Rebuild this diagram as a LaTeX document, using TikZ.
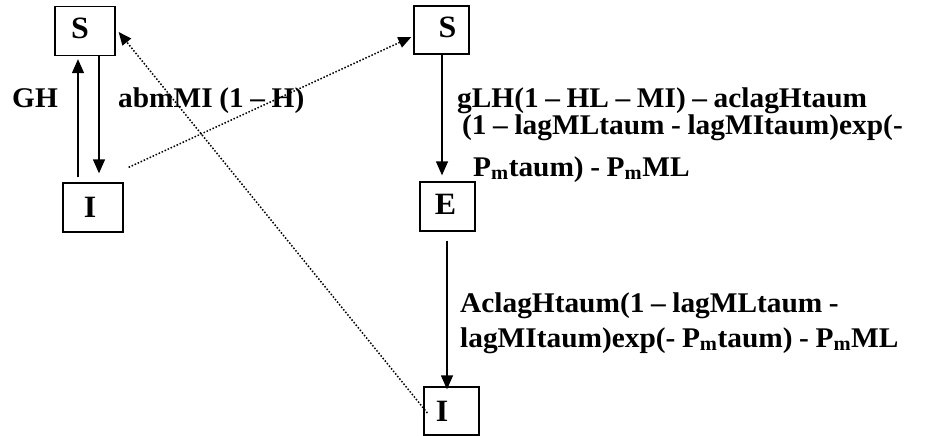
\documentclass[tikz,border=0pt]{standalone}
\usepackage{fontspec}
\setmainfont[FakeStretch=1.03,WordSpace=0.9]{Liberation Serif}
\usetikzlibrary{arrows.meta}
\tikzset{
  box/.style={draw, line width=1.3pt, inner sep=0pt, font=\fontsize{31}{31}\selectfont\bfseries},
  arr/.style={line width=1.3pt, -{Triangle[length=14pt,width=12pt]}},
  dotarr/.style={line width=1.5pt, dash pattern=on 1.5pt off 1.8pt, -{Triangle[length=13pt,width=11pt]}},
  lbl/.style={font=\fontsize{28.5}{28.5}\selectfont\bfseries, inner sep=0pt, align=left},
}
\begin{document}
\begin{tikzpicture}[x=1pt,y=-1pt]
\useasboundingbox (0,0) rectangle (946,436);
\node[box, minimum width=60pt, minimum height=49pt] (S1) at (85,31) {\raisebox{5pt}{S}\hspace*{10pt}};
\node[box, minimum width=60pt, minimum height=49pt] (I1) at (93,207.5) {\raisebox{-3pt}{I}\hspace*{6pt}};
\node[box, minimum width=55pt, minimum height=48pt] (S2) at (441.5,30) {\hspace*{12pt}\raisebox{5pt}{S}};
\node[box, minimum width=55pt, minimum height=49pt] (E) at (447.5,206.5) {\raisebox{4pt}{E}\hspace*{4pt}};
\node[box, minimum width=55pt, minimum height=48pt] (I2) at (451.5,411) {I\hspace*{19pt}};
% arrows
\draw[arr] ([xshift=-15pt,yshift=5pt]I1.north) -- ([xshift=-7pt,yshift=-3pt]S1.south);
\draw[arr] ([xshift=14pt]S1.south) -- ([xshift=6pt,yshift=9pt]I1.north);
\draw[arr] ([xshift=0.5pt]S2.south) -- ([xshift=-5.5pt,yshift=6pt]E.north);
\draw[arr] ([xshift=-0.5pt,yshift=-9pt]E.south) -- ([xshift=-4.5pt,yshift=-3pt]I2.north);
\draw[dotarr] ([xshift=5pt,yshift=15pt]I1.north east) -- ([xshift=-2pt,yshift=-7pt]S2.west);
\draw[dotarr] ([xshift=4pt,yshift=-2pt]I2.west) -- ([xshift=3pt,yshift=-1pt]S1.east);
% labels
\node[lbl, anchor=base west] (lGH) at (12,107) {GH};
\node[lbl, anchor=base west] (lab) at (118,107) {abmMI (1 – H)};
\node[lbl, anchor=base west] (lg1) at (457,107) {gLH(1 – HL – MI) – aclagHtaum};
\node[lbl, anchor=base west] (lg2) at (462,135) {(1 – lagMLtaum - lagMItaum)exp(-};
\node[lbl, anchor=base west] (lg3) at (473,176) {P\textsubscript{m}taum) - P\textsubscript{m}ML};
\node[lbl, anchor=base west] (la1) at (460,312) {AclagHtaum(1 – lagMLtaum -};
\node[lbl, anchor=base west] (la2) at (460,347) {lagMItaum)exp(- P\textsubscript{m}taum) - P\textsubscript{m}ML};
\end{tikzpicture}
\end{document}
